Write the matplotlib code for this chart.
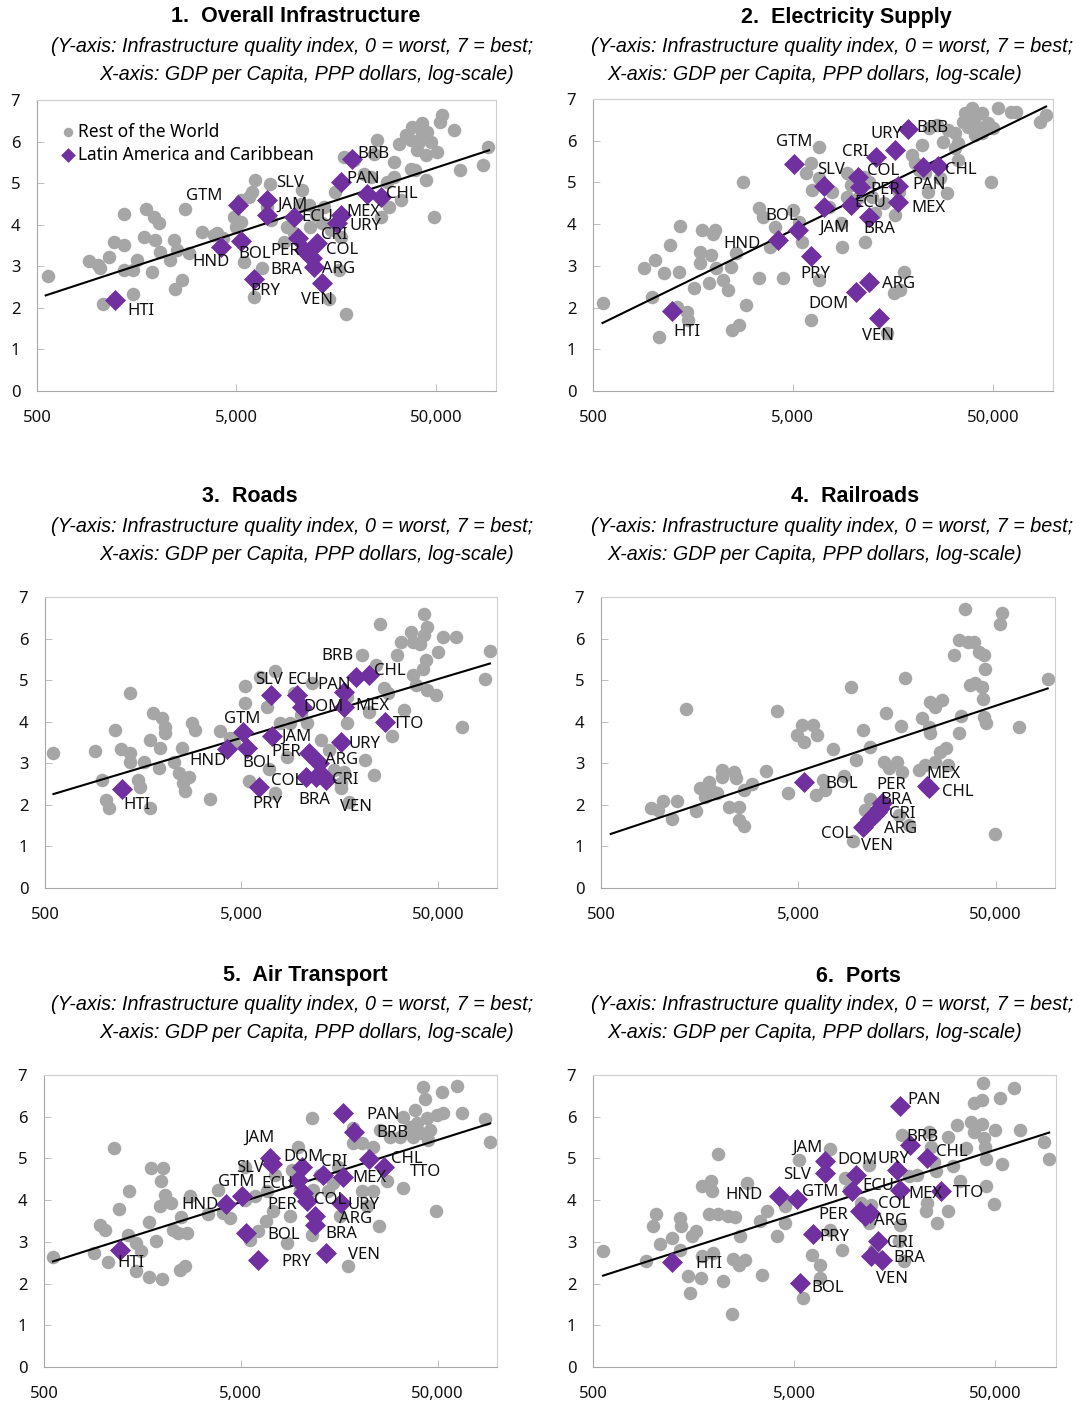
import matplotlib.pyplot as plt
from matplotlib.ticker import FixedLocator, NullLocator

plt.rcParams['font.family'] = ['Noto Sans', 'DejaVu Sans']

GREY = '#A6A6A6'
PURPLE = '#7030A0'
W, H = 1078, 1408

titles = ['1.  Overall Infrastructure', '2.  Electricity Supply', '3.  Roads',
          '4.  Railroads', '5.  Air Transport', '6.  Ports']
sub_1 = '(Y-axis: Infrastructure quality index, 0 = worst, 7 = best;'
sub_2 = 'X-axis: GDP per Capita, PPP dollars, log-scale)'
x_ticks = [500, 5000, 50000]
x_tick_labels = ['500', '5,000', '50,000']
y_ticks = [0, 1, 2, 3, 4, 5, 6, 7]

# ---- 1. Overall infrastructure ----
rw_gdp_1 = [565, 908, 1008, 1030, 1145, 1070, 1213, 1361, 1361, 1370, 1517, 1517, 1588, 1713, 1762,
            1888, 1924, 2037, 1963, 2060, 2333, 2426, 2518, 2470, 2667, 2775, 2905, 3365, 3846, 4285,
            4850, 4945, 5270, 5480, 5240, 6220, 6000, 5765, 6730, 6150, 7400, 7130, 7460, 8970, 8630,
            10670, 10470, 11750, 11530, 13700, 14820, 16630, 16300, 14520, 17740, 15560, 17250, 19400,
            21770, 25400, 24450, 23500, 26370, 29040, 30780, 30780, 33270, 32600, 35230, 37320, 38030,
            40270, 42650, 42650, 41100, 44360, 45190, 44360, 48870, 50800, 52350, 53800, 61550, 65950,
            86350, 91200, 39300, 28500, 13450, 9700, 12450, 37320, 47000, 3990]
rw_score_1 = [2.76, 3.13, 3.03, 2.95, 3.23, 2.10, 3.59, 3.51, 4.25, 2.91, 2.91, 2.34, 3.15, 3.71, 4.37,
              2.87, 4.19, 4.03, 3.63, 3.35, 3.15, 3.63, 3.39, 2.46, 2.66, 4.37, 3.31, 3.83, 3.75, 3.67,
              4.19, 3.95, 4.07, 3.11, 4.59, 5.07, 4.79, 4.67, 2.95, 2.26, 4.99, 4.43, 4.11, 3.95, 3.59,
              4.83, 4.51, 3.95, 4.47, 4.43, 3.87, 3.71, 2.91, 2.22, 1.86, 4.79, 5.63, 5.55,
              5.23, 6.04, 5.71, 5.15, 4.19, 4.43, 5.51, 5.15, 4.59, 5.95, 6.16, 5.35, 6.36,
              5.79, 6.44, 6.20, 6.00, 5.67, 6.24, 5.07, 4.19, 5.75, 6.48, 6.64, 6.28, 5.31,
              5.43, 5.87, 5.31, 5.03, 4.03, 3.79, 4.23, 6.04, 6.00, 3.79]
lac_code_1 = ['HTI', 'GTM', 'SLV', 'JAM', 'ECU', 'HND', 'BOL', 'PER', 'BRA', 'CRI', 'COL', 'ARG',
              'VEN', 'PRY', 'MEX', 'URY', 'PAN', 'BRB', 'CHL', 'TTO']
lac_gdp_1 = [1236, 5093, 7125, 7125, 9700, 4205, 5275, 10190, 10890, 12700, 12000, 12220,
             13450, 6110, 16630, 16000, 16630, 18880, 26600, 22440]
lac_score_1 = [2.20, 4.47, 4.59, 4.23, 4.19, 3.47, 3.61, 3.67, 3.40, 3.56, 3.19, 2.99,
               2.60, 2.69, 4.23, 4.03, 5.03, 5.59, 4.67, 4.75]
fit_gdp_1 = [553, 92300]
fit_score_1 = [2.30, 5.79]

# ---- 2. Electricity supply ----
rw_gdp_2 = [558, 904, 1021, 984, 1069, 1137, 1213, 1349, 1361, 1309, 1468, 1496, 1603, 1710, 1710,
            1758, 1896, 1955, 1991, 2046, 2070, 2233, 2366, 2460, 2488, 2673, 2600, 2812, 2918, 3397,
            3397, 3555, 3842, 4083, 4443, 4977, 5380, 5520, 5800, 6150, 6220, 6150, 6760, 6760, 6760,
            7870, 8830, 8660, 9350, 9720, 9350, 10690, 11530, 11990, 12450, 14220, 16260, 14800, 15950,
            17220, 17900, 16900, 19680, 22080, 20460, 22950, 23680, 23840, 26230, 28300, 27230, 29430,
            29980, 32360, 33570, 33570, 35560, 36300, 39170, 40640, 42260, 43940, 43940, 47400, 50000,
            48860, 53200, 61900, 65600, 86300, 92400, 37700, 40640, 32360, 21250, 11300, 12940, 7580]
rw_score_2 = [2.10, 2.94, 3.14, 2.26, 1.30, 2.82, 3.50, 2.86, 3.96, 2.02, 1.90, 1.70, 2.46, 3.34, 3.06,
              3.86, 2.58, 3.26, 3.76, 3.86, 2.94, 2.66, 2.42, 2.98, 1.46, 1.58, 3.30, 5.02, 2.06, 4.38,
              2.72, 4.18, 3.46, 3.94, 2.70, 4.34, 4.06, 3.58, 5.22, 5.46, 4.82, 1.71, 5.86, 5.10, 2.67,
              4.78, 3.46, 4.02, 5.22, 4.94, 4.66, 4.66, 3.58, 5.02, 4.66, 4.50, 4.22, 1.38, 2.34,
              2.42, 2.86, 4.78, 5.66, 5.90, 5.46, 5.22, 4.78, 6.30, 6.38, 5.98, 5.10, 4.74,
              6.26, 6.18, 5.94, 5.54, 6.46, 6.66, 6.78, 6.58, 6.34, 6.66, 6.18, 6.42, 6.30,
              5.02, 6.78, 6.68, 6.70, 6.46, 6.62, 6.34, 6.14, 5.82, 5.30, 5.14, 4.26, 4.42]
lac_code_2 = ['HTI', 'GTM', 'SLV', 'JAM', 'BOL', 'HND', 'PRY', 'CRI', 'URY', 'BRB', 'COL', 'PER',
              'ECU', 'BRA', 'PAN', 'TTO', 'CHL', 'MEX', 'DOM', 'ARG', 'VEN']
lac_gdp_2 = [1236, 5080, 7160, 7160, 5280, 4195, 6150, 13050, 16140, 18800, 10610, 10890,
             9720, 11990, 16780, 22500, 26550, 16780, 10290, 12080, 13540]
lac_score_2 = [1.91, 5.44, 4.92, 4.42, 3.86, 3.62, 3.23, 5.60, 5.78, 6.28, 5.12, 4.90,
               4.46, 4.16, 4.92, 5.38, 5.40, 4.54, 2.38, 2.62, 1.74]
fit_gdp_2 = [558, 92400]
fit_score_2 = [1.63, 6.82]

# ---- 3. Roads ----
rw_gdp_3 = [552, 900, 973, 1024, 1064, 1138, 1216, 1358, 1358, 1358, 1496, 1514, 1600, 1702, 1718,
            1770, 1892, 1931, 1968, 2045, 2045, 2259, 2393, 2488, 2516, 2588, 2716, 2800, 2911, 3444,
            3907, 4395, 4570, 5240, 5240, 5450, 6250, 6760, 6890, 7400, 7450, 7900, 8550, 8830, 9250,
            10000, 10810, 11480, 12650, 13950, 14800, 16000, 16000, 16630, 17170, 17650, 20640, 21220,
            22330, 23660, 24150, 25400, 26600, 27900, 29370, 31130, 32350, 33650, 36400, 37150, 37150,
            38630, 40640, 41780, 42570, 42570, 43450, 44250, 44000, 48870, 50200, 52840, 61800, 66250,
            86900, 92000, 17300]
rw_score_3 = [3.24, 3.30, 2.60, 2.12, 1.92, 3.80, 3.34, 3.24, 4.68, 3.04, 2.60, 2.44, 3.04, 3.56, 1.92,
              4.20, 2.88, 3.36, 4.08, 3.88, 3.72, 3.04, 2.76, 3.36, 2.52, 2.34, 2.68, 3.98, 3.80, 2.14,
              3.78, 3.60, 3.48, 4.86, 4.46, 2.58, 5.08, 4.36, 2.86, 5.22, 2.28, 3.96, 3.16, 3.96, 4.68,
              4.16, 3.96, 4.92, 3.56, 3.32, 2.84, 2.52, 2.40, 2.78, 3.96, 2.08, 5.60, 3.08,
              4.24, 2.72, 5.36, 6.34, 4.80, 4.68, 3.66, 5.60, 5.92, 4.28, 6.16, 5.92, 5.12,
              4.88, 5.88, 5.28, 6.60, 6.08, 5.48, 6.28, 4.76, 4.64, 5.68, 6.04, 6.04, 3.88,
              5.02, 5.70, 4.60]
lac_code_3 = ['HTI', 'HND', 'GTM', 'BOL', 'SLV', 'JAM', 'ECU', 'DOM', 'PER', 'COL', 'BRA', 'CRI',
              'ARG', 'VEN', 'PRY', 'URY', 'MEX', 'PAN', 'BRB', 'CHL', 'TTO']
lac_gdp_3 = [1230, 4225, 5100, 5340, 7080, 7160, 9600, 10200, 11030, 10610, 11940, 13420,
             12410, 12910, 6120, 16110, 16630, 16630, 19090, 22330, 26850]
lac_score_3 = [2.38, 3.34, 3.76, 3.36, 4.64, 3.66, 4.64, 4.36, 3.24, 2.68, 2.66, 2.60,
               3.00, 2.72, 2.44, 3.52, 4.36, 4.72, 5.08, 5.12, 4.00]
fit_gdp_3 = [552, 92000]
fit_score_3 = [2.26, 5.40]

# ---- 4. Railroads ----
rw_gdp_4 = [900, 968, 1031, 1146, 1213, 1352, 1514, 1592, 1690, 1758, 1828, 1936, 2051, 2051, 2218,
            2349, 2414, 2493, 2510, 2660, 2640, 2911, 3445, 3900, 4413, 4920, 5222, 5320, 5935, 6220,
            6170, 6670, 6860, 7500, 8490, 9250, 9460, 9830, 10630, 10930, 11480, 11590, 13530, 13950,
            14350, 15810, 16110, 16570, 16760, 17290, 18110, 20370, 21180, 22020, 22860, 23310, 23310,
            24700, 24700, 26700, 26220, 28120, 28570, 30620, 32500, 32500, 33350, 35080, 36230, 37230,
            38700, 39430, 41000, 43450, 42650, 44340, 43150, 43450, 44850, 49740, 52350, 53850, 65400,
            91800]
rw_score_4 = [1.92, 1.88, 2.10, 1.66, 2.10, 4.30, 1.86, 2.40, 2.20, 2.56, 2.34, 2.28, 2.84, 2.68, 1.96,
              2.80, 2.64, 1.96, 1.64, 1.50, 2.36, 2.50, 2.82, 4.26, 2.28, 3.68, 3.92, 3.52, 3.92, 3.68,
              2.24, 2.60, 2.36, 3.34, 2.70, 4.84, 1.12, 3.08, 3.80, 1.88, 3.40, 2.14, 3.02, 4.20,
              2.88, 3.04, 1.76, 3.90, 2.80, 5.04, 1.52, 2.84, 4.10, 2.96, 3.88, 4.48, 3.72,
              4.36, 3.04, 4.52, 3.28, 3.36, 2.96, 5.60, 5.96, 3.72, 4.14, 6.70, 5.92, 4.88,
              5.92, 4.92, 5.68, 5.60, 4.84, 5.28, 4.54, 4.12, 3.96, 1.30, 6.34, 6.62, 3.88,
              5.02]
lac_code_4 = ['BOL', 'COL', 'VEN', 'ARG', 'CRI', 'BRA', 'PER', 'MEX', 'CHL']
lac_gdp_4 = [5320, 10630, 11590, 12050, 12530, 13030, 13270, 22440, 22860]
lac_score_4 = [2.54, 1.46, 1.66, 1.76, 1.84, 1.92, 2.04, 2.46, 2.40]
fit_gdp_4 = [560, 91800]
fit_score_4 = [1.30, 4.80]

# ---- 5. Air transport ----
rw_gdp_5 = [555, 898, 960, 1016, 1057, 1134, 1202, 1336, 1352, 1472, 1472, 1563, 1702, 1710, 1758,
            1862, 1936, 1954, 1977, 2013, 2055, 2218, 2265, 2399, 2448, 2595, 2648, 2494, 2774, 3410,
            3838, 4035, 4394, 5240, 5240, 5560, 5890, 6120, 6670, 6760, 7300, 7450, 8530, 8870, 9060,
            9790, 9980, 11430, 11430, 11670, 12620, 13900, 14720, 15920, 17570, 18490, 18630, 20550,
            20550, 21770, 23540, 23540, 25230, 25460, 27540, 28630, 32150, 33180, 33450, 36150, 37580,
            38350, 39100, 41000, 42260, 43140, 43950, 44860, 45700, 49400, 49070, 52350, 53480, 62500,
            66200, 87000, 92300, 15620]
rw_score_5 = [2.63, 2.73, 3.41, 3.29, 2.51, 5.24, 3.79, 3.17, 4.23, 2.97, 2.29, 2.77, 2.15, 3.47, 4.78,
              3.01, 3.85, 4.45, 2.11, 4.78, 4.13, 3.93, 3.29, 3.21, 2.33, 2.41, 3.21, 3.59, 4.10, 3.67,
              4.25, 3.69, 3.57, 4.80, 4.01, 3.05, 4.09, 3.27, 3.49, 4.21, 3.73, 4.60, 2.97, 3.61, 4.72,
              5.27, 4.25, 5.96, 3.17, 4.25, 4.60, 4.21, 4.41, 3.61, 2.41, 5.72, 5.38, 5.36,
              4.21, 3.85, 4.21, 5.28, 3.37, 5.68, 4.45, 5.52, 5.52, 4.29, 6.00, 5.76, 5.52,
              6.16, 5.84, 5.60, 6.72, 6.42, 5.96, 5.44, 5.68, 6.04, 3.73, 6.60, 6.08, 6.74,
              6.10, 5.94, 5.40, 4.80]
lac_code_5 = ['HTI', 'HND', 'GTM', 'SLV', 'JAM', 'DOM', 'ECU', 'PER', 'COL', 'CRI', 'ARG', 'BRA',
              'URY', 'MEX', 'VEN', 'PAN', 'BRB', 'CHL', 'TTO', 'BOL', 'PRY']
lac_gdp_5 = [1222, 4180, 5080, 7160, 7020, 10180, 9790, 10800, 10380, 13020, 11880, 11880,
             16070, 16570, 13520, 16570, 18780, 22390, 26680, 5300, 6120]
lac_score_5 = [2.81, 3.90, 4.09, 4.87, 5.00, 4.80, 4.49, 3.97, 4.17, 4.60, 3.61, 3.41,
               3.94, 4.55, 2.73, 6.08, 5.63, 4.99, 4.79, 3.21, 2.57]
fit_gdp_5 = [555, 92300]
fit_score_5 = [2.53, 5.84]

# ---- 6. Ports ----
rw_gdp_6 = [561, 914, 988, 1026, 1075, 1228, 1352, 1367, 1352, 1486, 1517, 1545, 1625, 1733, 1714,
            1733, 1922, 1958, 1892, 1981, 2085, 2100, 2222, 2355, 2445, 2492, 2540, 2658, 2690, 2850,
            2903, 3452, 3387, 3656, 4100, 4510, 4510, 5260, 5520, 6120, 6740, 6740, 7550, 7550, 8650,
            8980, 9330, 10750, 11730, 11730, 12100, 12420, 16560, 16750, 17200, 17660, 18570, 20440,
            22500, 22900, 23340, 23830, 24750, 25230, 25530, 29040, 29040, 30880, 32360, 33330, 35560,
            37670, 39160, 39160, 43070, 43070, 43560, 43930, 44240, 44760, 44760, 49230, 50000, 52700,
            54200, 61900, 66050, 86700, 92500]
rw_score_6 = [2.77, 2.55, 3.39, 3.66, 2.95, 3.09, 3.58, 3.37, 2.81, 2.17, 1.77, 3.13, 3.27, 4.33, 2.13,
              2.65, 4.45, 4.22, 3.66, 2.73, 5.10, 3.67, 2.05, 3.62, 1.28, 2.59, 3.59, 2.45, 3.14, 2.57,
              4.42, 2.21, 3.49, 3.73, 3.14, 3.85, 3.45, 4.96, 1.65, 2.69, 2.45, 2.13, 5.23, 3.29, 2.81,
              4.53, 4.25, 3.93, 3.45, 4.84, 3.89, 2.81, 3.01, 3.41, 5.56, 2.53, 4.57, 4.60,
              3.73, 3.93, 5.64, 5.28, 4.92, 4.69, 3.45, 3.73, 5.52, 4.82, 5.80, 4.45, 5.24,
              5.88, 6.32, 5.64, 6.40, 5.83, 6.80, 5.48, 5.28, 4.98, 4.33, 3.90, 5.67, 6.44,
              4.87, 6.68, 5.68, 5.40, 4.98]
lac_code_6 = ['HTI', 'HND', 'GTM', 'SLV', 'JAM', 'DOM', 'ECU', 'URY', 'MEX', 'TTO', 'CHL', 'BRB',
              'PAN', 'PER', 'COL', 'ARG', 'PRY', 'CRI', 'BRA', 'VEN', 'BOL']
lac_gdp_6 = [1229, 4180, 5150, 7080, 7130, 10190, 9690, 16120, 16740, 26700, 22740, 18790,
             16740, 10590, 11960, 11290, 6190, 13060, 12100, 13680, 5360]
lac_score_6 = [2.51, 4.10, 4.02, 4.64, 4.95, 4.60, 4.23, 4.72, 4.25, 4.21, 5.02, 5.32,
               6.26, 3.73, 3.70, 3.61, 3.19, 3.01, 2.65, 2.57, 2.01]
fit_gdp_6 = [561, 92500]
fit_score_6 = [2.19, 5.62]

# label offsets from the diamond, in pixels (dx right, dy up); None = no label
offsets = [
    {'HTI': (25, -11), 'GTM': (-34, 9), 'SLV': (23, 17), 'JAM': (25, 10), 'ECU': (23, 0),
     'HND': (-10, -15), 'BOL': (14, -13), 'PER': (-13, -13), 'BRA': (-18, -20), 'CRI': (17, 8),
     'COL': (30, 8), 'ARG': (25, -2), 'VEN': (-5, -17), 'PRY': (12, -12), 'MEX': (23, 3),
     'URY': (28, -3), 'PAN': (23, 3), 'BRB': (22, 5), 'CHL': (21, 3), 'TTO': None},
    {'HTI': (15, -21), 'GTM': (0, 22), 'SLV': (7, 16), 'JAM': (10, -21), 'BOL': (-16, 14),
     'HND': (-36, -4), 'PRY': (4, -18), 'CRI': (-21, 5), 'URY': (-8, 16), 'BRB': (25, 1),
     'COL': (25, 6), 'PER': (25, -3), 'ECU': (20, 2), 'BRA': (10, -12), 'PAN': (31, 1),
     'TTO': None, 'CHL': (23, -4), 'MEX': (30, -6), 'DOM': (-27, -12), 'ARG': (29, -2),
     'VEN': (-1, -18)},
    {'HTI': (15, -16), 'HND': (-19, -12), 'GTM': (-1, 13), 'BOL': (12, -15), 'SLV': (-2, 15),
     'JAM': (24, -1), 'ECU': (6, 15), 'DOM': (21, 0), 'PER': (-23, 1), 'COL': (-18, -4),
     'BRA': (-1, -23), 'CRI': (20, 0), 'ARG': (23, 3), 'VEN': (34, -32), 'PRY': (9, -17),
     'URY': (23, -2), 'MEX': (28, 1), 'PAN': (-10, 7), 'BRB': (-18, 21), 'CHL': (21, 4),
     'TTO': (24, -2)},
    {'BOL': (38, -2), 'COL': (-26, -7), 'VEN': (7, -27), 'ARG': (27, -14), 'CRI': (25, -2),
     'BRA': (16, 8), 'PER': (9, 18), 'MEX': (16, 12), 'CHL': (29, -4)},
    {'HTI': (10, -13), 'HND': (-26, -1), 'GTM': (-6, 14), 'SLV': (-22, -4), 'JAM': (-10, 21),
     'DOM': (2, 10), 'ECU': (-21, -4), 'PER': (-24, -4), 'COL': (27, -7), 'CRI': (11, 13),
     'ARG': (41, -3), 'BRA': (26, -9), 'URY': (23, -2), 'MEX': (26, -1), 'VEN': (38, -2),
     'PAN': (40, -2), 'BRB': (38, -1), 'CHL': (38, 0), 'TTO': (41, -5), 'BOL': (38, -2),
     'PRY': (38, -2)},
    {'HTI': (37, -2), 'HND': (-35, 1), 'GTM': (23, 7), 'SLV': (-28, -2), 'JAM': (-18, 13),
     'DOM': (1, 15), 'ECU': (26, 5), 'URY': (-3, 11), 'MEX': (26, -4), 'TTO': (28, -2),
     'CHL': (25, 6), 'BRB': (13, 8), 'PAN': (24, 6), 'PER': (-27, -4), 'COL': (24, 9),
     'ARG': (25, -5), 'PRY': (22, -3), 'CRI': (22, -2), 'BRA': (38, -2), 'VEN': (10, -19),
     'BOL': (27, -5)},
]

panels = [
    (rw_gdp_1, rw_score_1, lac_code_1, lac_gdp_1, lac_score_1, fit_gdp_1, fit_score_1),
    (rw_gdp_2, rw_score_2, lac_code_2, lac_gdp_2, lac_score_2, fit_gdp_2, fit_score_2),
    (rw_gdp_3, rw_score_3, lac_code_3, lac_gdp_3, lac_score_3, fit_gdp_3, fit_score_3),
    (rw_gdp_4, rw_score_4, lac_code_4, lac_gdp_4, lac_score_4, fit_gdp_4, fit_score_4),
    (rw_gdp_5, rw_score_5, lac_code_5, lac_gdp_5, lac_score_5, fit_gdp_5, fit_score_5),
    (rw_gdp_6, rw_score_6, lac_code_6, lac_gdp_6, lac_score_6, fit_gdp_6, fit_score_6),
]

# axes boxes in pixels: left, top, right, bottom
boxes = [(37, 100, 496, 391), (593, 99, 1053, 391),
         (45, 597, 497, 888), (601, 597, 1055, 888),
         (44, 1075, 497, 1367), (593, 1075, 1056, 1367)]
title_x = [296, 846, 250, 855, 305, 858]
sub1_x = [292, 832, 292, 832, 292, 832]
sub2_x = [307, 815, 307, 815, 307, 815]
title_y = [17, 17, 497, 497, 976, 976]

fig = plt.figure(figsize=(W / 100, H / 100), dpi=100)
narrow = ['Liberation Sans Narrow', 'Liberation Sans', 'DejaVu Sans']

for i, (rx, ry, codes, lx, ly, fx, fy) in enumerate(panels):
    l, t, r, b = boxes[i]
    ax = fig.add_axes([l / W, 1 - b / H, (r - l) / W, (b - t) / H])
    ax.set_xscale('log')
    ax.set_xlim(500, 100000)
    ax.set_ylim(0, 7)

    ax.scatter(rx, ry, s=95, color=GREY, linewidths=0, zorder=2, label='Rest of the World')
    ax.plot(fx, fy, color='black', lw=1.5, zorder=3)
    ax.scatter(lx, ly, s=115, marker='D', color=PURPLE, linewidths=0, zorder=4,
               label='Latin America and Caribbean')
    for code, gx, gy in zip(codes, lx, ly):
        off = offsets[i].get(code)
        if off is None:
            continue
        ax.annotate(code, (gx, gy), xytext=(off[0] * 0.72, off[1] * 0.72),
                    textcoords='offset points', ha='center', va='center',
                    fontsize=12, color='#111111', zorder=5)

    ax.xaxis.set_major_locator(FixedLocator(x_ticks))
    ax.xaxis.set_minor_locator(NullLocator())
    ax.set_xticklabels(x_tick_labels)
    ax.set_yticks(y_ticks)
    ax.tick_params(direction='in', length=5, width=0.7, color='#BFBFBF',
                   labelsize=12, labelcolor='#111111')
    ax.tick_params(axis='x', pad=14)
    ax.tick_params(axis='y', pad=12)
    for side in ['left', 'bottom']:
        ax.spines[side].set_color('#A6A6A6')
    for side in ['top', 'right']:
        ax.spines[side].set_color('#CFCFCF')
    for sp in ax.spines.values():
        sp.set_linewidth(0.8)

    if i == 0:
        ax.legend(loc='upper left', bbox_to_anchor=(0.025, 0.97), frameon=False,
                  fontsize=12.5, handlelength=0.7, handletextpad=0.2, borderaxespad=0.4,
                  labelspacing=0.3, markerscale=0.7)

    ty = title_y[i]
    fig.text(title_x[i] / W, 1 - ty / H, titles[i], ha='center', va='center',
             fontsize=15.5, fontweight='bold', family=narrow)
    fig.text(sub1_x[i] / W, 1 - (ty + 29) / H, sub_1, ha='center', va='center',
             fontsize=14.2, style='italic', family=narrow)
    fig.text(sub2_x[i] / W, 1 - (ty + 57) / H, sub_2, ha='center', va='center',
             fontsize=14.2, style='italic', family=narrow)

fig.savefig('out.png', dpi=100)
